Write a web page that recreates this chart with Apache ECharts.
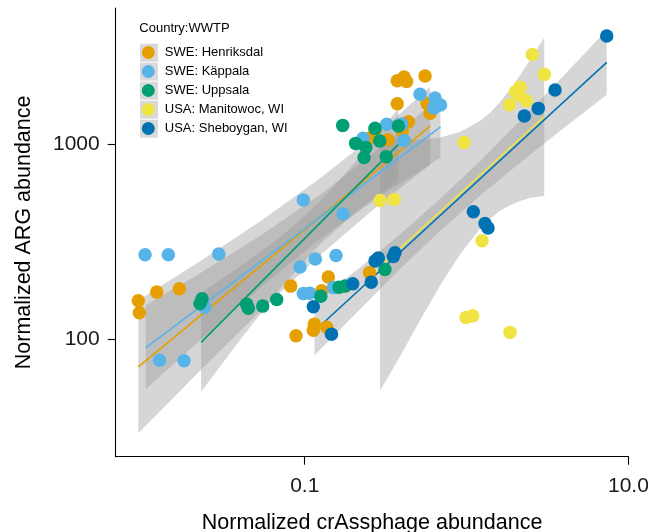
<!DOCTYPE html>
<html>
<head>
<meta charset="utf-8">
<script src="https://cdn.jsdelivr.net/npm/echarts@6/dist/echarts.min.js"></script>
<style>html,body{margin:0;padding:0;background:#fff}#c{width:652px;height:532px}</style>
</head>
<body>
<div id="c"></div>
<script>
// ---- data (x = normalized crAssphage abundance, y = normalized ARG abundance) ----
const groupNames = ['SWE: Henriksdal', 'SWE: Käppala', 'SWE: Uppsala', 'USA: Manitowoc, WI', 'USA: Sheboygan, WI'];
const xTicks = [0.1, 10];
const yTicks = [100, 1000];

const henriksdal = [[0.00937,157.9],[0.00951,137.1],[0.01218,175.0],[0.0168,181.9],[0.0819,187.8],[0.0884,104.8],[0.1146,120.0],[0.1130,111.8],[0.1368,115.8],[0.1399,208.8],[0.1274,178.0],[0.2514,220.1],[0.373,2108],[0.411,2201],[0.426,2088],[0.554,2227],[0.373,1607],[0.570,1615],[0.595,1436],[0.437,1300],[0.401,1166],[0.272,1172],[0.250,1070],[0.326,1052]];
const kappala = [[0.01031,271.6],[0.01436,271.6],[0.02942,273.8],[0.01267,78.5],[0.01796,77.9],[0.02404,146.6],[0.0935,234.9],[0.1163,258.1],[0.1561,269.0],[0.0980,171.9],[0.1074,172.9],[0.1502,184.5],[0.0980,517.1],[0.1724,438.5],[0.516,1798],[0.638,1719],[0.690,1583],[0.627,1528],[0.321,1263],[0.3975,1266],[0.411,1044],[0.229,1070]];
const uppsala = [[0.0232,161.7],[0.02255,153.2],[0.0438,151.9],[0.0448,144.9],[0.0550,148.4],[0.0671,160.5],[0.1256,166.9],[0.1629,185.5],[0.1774,187.8],[0.313,228.6],[0.1717,1246],[0.2063,1008],[0.2325,853],[0.272,1203],[0.2907,1036],[0.319,861],[0.2385,960],[0.379,1236]];
const manitowoc = [[0.292,515],[0.357,521],[1.246,320],[0.992,129.9],[1.091,132.3],[1.856,108.9],[0.964,1020],[2.548,2869],[3.022,2272],[2.139,1952],[2.006,1851],[2.340,1663],[1.845,1591],[2.109,1781]];
const sheboygan = [[0.1130,147.2],[0.1464,106.7],[0.198,193.1],[0.2576,196.8],[0.272,252.7],[0.285,261.1],[0.353,266.4],[0.361,278.0],[1.101,450.5],[1.300,392.9],[1.357,371.8],[2.274,1390],[2.775,1522],[3.520,1889],[7.345,3567]];

// fitted lines (end points) and confidence bands [x, lower, upper]
const henriksdalFit = [[0.00937,72.6],[0.595,1236]];
const kappalaFit = [[0.0104,90.7],[0.690,1224]];
const uppsalaFit = [[0.0229,96.8],[0.379,997]];
const manitowocFit = [[0.292,236],[3.02,1383]];
const sheboyganFit = [[0.115,110.7],[7.345,2618]];

const henriksdalBand = [[0.00937,33.2,158.9],[0.02255,69.4,251.8],[0.0529,139.4,402.3],[0.1243,270.2,667.7],[0.292,495.6,1168],[0.595,781,1957]];
const kappalaBand = [[0.0104,55.8,150.0],[0.02255,99.2,218.3],[0.0529,184.1,338.8],[0.1243,326.7,549.9],[0.292,540.8,954],[0.690,851.9,1758]];
const uppsalaBand = [[0.0229,54.1,173.1],[0.0398,99.5,236.3],[0.0704,181.3,333.7],[0.1243,308.3,505.5],[0.2196,466.9,859.0],[0.379,649.8,1524]];
const manitowocBand = [[0.292,54.8,1056],[0.388,82.0,1048],[0.516,125.7,1052],[0.6855,188.9,1080],[0.911,272.8,1151],[1.211,369.3,1311],[1.396,415.3,1447],[1.609,455.4,1640],[1.856,487.0,1900],[2.139,512.2,2248],[2.466,529.4,2696],[3.02,544.6,3501]];
const sheboyganBand = [[0.115,83.3,154.8],[0.2196,143.0,234.1],[0.388,229.7,346.0],[0.6855,359.3,523.9],[1.211,543.9,819.6],[2.139,803.4,1314],[3.779,1168,2140],[7.345,1789,3830]];

// ---- build chart ----
const FONT = "'Liberation Sans', Arial, Helvetica, sans-serif";
const colors = ['#E69F00', '#56B4E9', '#009E73', '#F0E442', '#0072B2'];
const points = [henriksdal, kappala, uppsala, manitowoc, sheboygan];
const fits = [henriksdalFit, kappalaFit, uppsalaFit, manitowocFit, sheboyganFit];
const bands = [henriksdalBand, kappalaBand, uppsalaBand, manitowocBand, sheboyganBand];
const L = Math.log10;

function bandSeries(band, i) {
  const pts = band.map(d => [L(d[0]), L(d[1]), L(d[2])]);
  return {
    type: 'custom', name: 'band' + i, silent: true, z: 1,
    data: pts,
    encode: { x: 0, y: [1, 2] },
    renderItem: function (params, api) {
      if (params.dataIndex !== 0) return null;
      const upper = pts.map(p => api.coord([p[0], p[2]]));
      const lower = pts.map(p => api.coord([p[0], p[1]])).reverse();
      return { type: 'polygon', shape: { points: upper.concat(lower) }, style: { fill: 'rgba(153,153,153,0.4)' } };
    }
  };
}

const series = [];
bands.forEach((b, i) => series.push(bandSeries(b, i)));
fits.forEach((f, i) => series.push({
  type: 'line', name: 'fit' + i, silent: true, z: 2, showSymbol: false,
  data: f.map(p => [L(p[0]), L(p[1])]),
  lineStyle: { color: colors[i], width: 1.6 }, itemStyle: { color: colors[i] }
}));
points.forEach((pt, i) => series.push({
  type: 'scatter', name: groupNames[i], z: 3, symbolSize: 13.5,
  data: pt.map(p => [L(p[0]), L(p[1])]),
  itemStyle: { color: colors[i], opacity: 1 }
}));

const keyRects = groupNames.map((n, i) => ({
  type: 'rect', z: 0, shape: { x: 140, y: 43.7 + i * 19, width: 18, height: 18 }, style: { fill: '#d9d9d9' }
}));

const chart = echarts.init(document.getElementById('c'), null, { renderer: 'canvas' });
chart.setOption({
  animation: false,
  backgroundColor: '#fff',
  textStyle: { fontFamily: FONT },
  grid: { left: 115.7, right: 23.6, top: 8, bottom: 75.3, containLabel: false, outerBoundsMode: 'none' },
  xAxis: {
    type: 'value', min: L(0.00679), max: L(10),
    name: 'Normalized crAssphage abundance', nameLocation: 'middle', nameGap: 55,
    nameTextStyle: { fontSize: 21.5, color: '#000', fontFamily: FONT },
    axisLine: { onZero: false, lineStyle: { color: '#000', width: 1.1 } },
    axisTick: { customValues: xTicks.map(L), length: 8, lineStyle: { color: '#000', width: 1.1 } },
    axisLabel: { customValues: xTicks.map(L), formatter: v => Math.pow(10, v).toFixed(1), margin: 19, fontSize: 21, color: '#1a1a1a', fontFamily: FONT },
    splitLine: { show: false }
  },
  yAxis: {
    type: 'value', min: L(25.2), max: L(4963),
    name: 'Normalized ARG abundance', nameLocation: 'middle', nameGap: 81,
    nameTextStyle: { fontSize: 21.5, color: '#000', fontFamily: FONT },
    axisLine: { onZero: false, lineStyle: { color: '#000', width: 1.1 } },
    axisTick: { customValues: yTicks.map(L), length: 8, lineStyle: { color: '#000', width: 1.1 } },
    axisLabel: { customValues: yTicks.map(L), formatter: v => Math.pow(10, v).toFixed(0), margin: 16, fontSize: 21, color: '#1a1a1a', fontFamily: FONT },
    splitLine: { show: false }
  },
  legend: {
    data: groupNames, orient: 'vertical', left: 141.8, top: 46, itemWidth: 23, itemHeight: 13, itemGap: 6,
    icon: 'circle', selectedMode: false, z: 5, padding: 0,
    textStyle: { fontSize: 13, lineHeight: 13, color: '#000', fontFamily: FONT }
  },
  graphic: keyRects.concat([{
    type: 'text', z: 5, left: 139.3, top: 22,
    style: { text: 'Country:WWTP', fontSize: 13, fill: '#000', fontFamily: FONT }
  }]),
  series: series
});
</script>
</body>
</html>
